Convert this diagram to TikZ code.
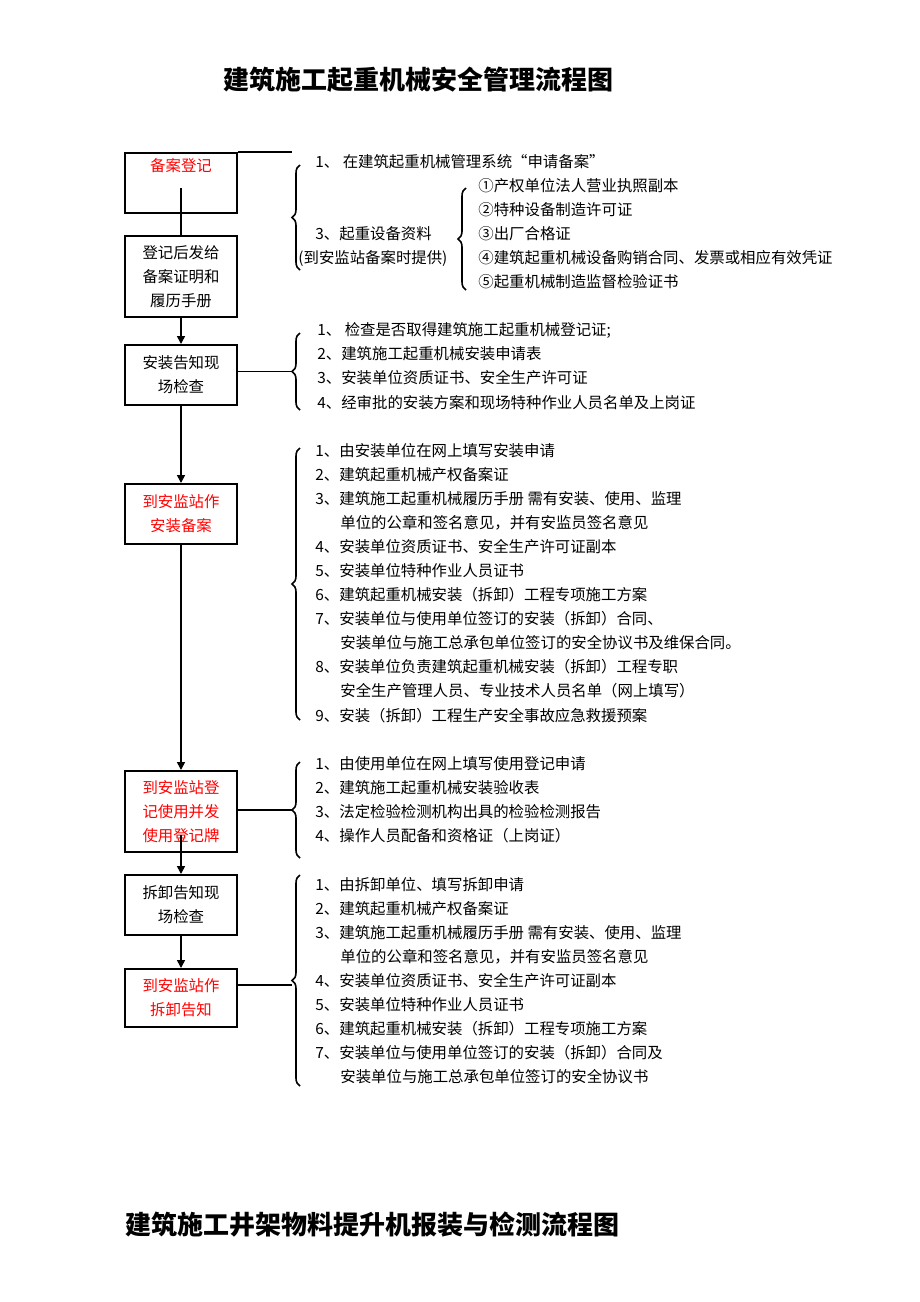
\documentclass[tikz,border=0pt]{standalone}
\usepackage{fontspec}
\setmainfont{Noto Sans CJK SC}
\usetikzlibrary{arrows.meta,decorations.pathreplacing}

\begin{document}
\begin{tikzpicture}[x=0.5pt,y=-0.5pt,>={Triangle[length=4pt,width=4pt]},
  step box/.style={draw,thick,minimum width=56pt,inner sep=0pt,align=center,font=\fontsize{7.7}{12}\selectfont},
  red box/.style={step box,text=red},
  item/.style={anchor=west,inner sep=0pt,font=\fontsize{7.7}{9}\selectfont},
  title/.style={font=\fontsize{13}{15}\selectfont\bfseries},
  curly/.style={decorate,decoration={brace,amplitude=4pt}}]
  \useasboundingbox (0,0) rectangle (920,1302);

  \node[title] (t1) at (418,80) {建筑施工起重机械安全管理流程图};
  \node[title,anchor=west] (t2) at (118,1225) {建筑施工井架物料提升机报装与检测流程图};

  % steps
  \node[red box,minimum height=30pt,anchor=north,text depth=18pt] (s1) at (181,152) {备案登记};
  \node[step box,minimum height=40.5pt,anchor=north] (s2) at (181,235) {登记后发给\\备案证明和\\履历手册};
  \node[step box,minimum height=30pt,anchor=north] (s3) at (181,344) {安装告知现\\场检查};
  \node[red box,minimum height=30pt,anchor=north] (s4) at (181,483) {到安监站作\\安装备案};
  \node[red box,minimum height=40.5pt,anchor=north] (s5) at (181,770) {到安监站登\\记使用并发\\使用登记牌};
  \node[step box,minimum height=30pt,anchor=north] (s6) at (181,874) {拆卸告知现\\场检查};
  \node[red box,minimum height=29pt,anchor=north] (s7) at (181,968) {到安监站作\\拆卸告知};

  \coordinate (c1) at (181,188);
  \coordinate (c5) at (181,835);
  \coordinate (top) at (292,152);
  \draw[thick] (c1) -- (s2.north);
  \draw[thick] (s1.north east) -- (top);
  \draw[thick,->] (s2) -- (s3);
  \draw[thick,->] (s3) -- (s4);
  \draw[thick,->] (s4) -- (s5);
  \draw[thick,->] (c5) -- (s6.north);
  \draw[thick,->] (s6) -- (s7);

  % braces
  \draw[thick,curly] (300,270) -- (300,165) coordinate[midway] (b1);
  \draw[thick,curly] (466,290) -- (466,188);
  \draw[thick,curly] (300,410) -- (300,333) coordinate[midway,xshift=-4pt] (b3);
  \draw[thick,curly] (300,720) -- (300,448);
  \draw[thick,curly] (300,858) -- (300,762) coordinate[midway,xshift=-4pt] (b5);
  \draw[thick,curly] (300,1086) -- (300,875) coordinate[midway,xshift=-4pt] (b6);
  \draw[thick] (s3.east |- b3) -- (b3);
  \draw[thick] (s5.east |- b5) -- (b5);
  \draw[thick] (s7.east |- 0,985) -- (b6 |- 0,985);

  % texts
  \node[item] (r1) at (315,162) {1、\ 在建筑起重机械管理系统“申请备案”};
  \node[item] (r3) at (315,234) {3、起重设备资料};
  \node[item] (r3b) at (298,258) {(到安监站备案时提供)};
  \foreach \y/\t/\n in {186/{①产权单位法人营业执照副本}/1,
                        210/{②特种设备制造许可证}/2,
                        234/{③出厂合格证}/3,
                        258/{④建筑起重机械设备购销合同、发票或相应有效凭证}/4,
                        282/{⑤起重机械制造监督检验证书}/5}
    \node[item] (d\n) at (478,\y) {\t};
  \foreach \y/\t/\n in {330/{1、\ 检查是否取得建筑施工起重机械登记证;}/1,
                        354/{2、建筑施工起重机械安装申请表}/2,
                        378/{3、安装单位资质证书、安全生产许可证}/3,
                        403/{4、经审批的安装方案和现场特种作业人员名单及上岗证}/4}
    \node[item] (e\n) at (317,\y) {\t};
  \foreach \y/\x/\t/\n in {451/315/{1、由安装单位在网上填写安装申请}/1,
                        475/315/{2、建筑起重机械产权备案证}/2,
                        499/315/{3、建筑施工起重机械履历手册 需有安装、使用、监理}/3,
                        523/340/{单位的公章和签名意见，并有安监员签名意见}/4,
                        547/315/{4、安装单位资质证书、安全生产许可证副本}/5,
                        571/315/{5、安装单位特种作业人员证书}/6,
                        595/315/{6、建筑起重机械安装（拆卸）工程专项施工方案}/7,
                        619/315/{7、安装单位与使用单位签订的安装（拆卸）合同、}/8,
                        643/340/{安装单位与施工总承包单位签订的安全协议书及维保合同。}/9,
                        667/315/{8、安装单位负责建筑起重机械安装（拆卸）工程专职}/10,
                        691/340/{安全生产管理人员、专业技术人员名单（网上填写）}/11,
                        716/315/{9、安装（拆卸）工程生产安全事故应急救援预案}/12}
    \node[item] (f\n) at (\x,\y) {\t};
  \foreach \y/\t/\n in {764/{1、由使用单位在网上填写使用登记申请}/1,
                        788/{2、建筑施工起重机械安装验收表}/2,
                        812/{3、法定检验检测机构出具的检验检测报告}/3,
                        836/{4、操作人员配备和资格证（上岗证）}/4}
    \node[item] (g\n) at (315,\y) {\t};
  \foreach \y/\x/\t/\n in {885/315/{1、由拆卸单位、填写拆卸申请}/1,
                        909/315/{2、建筑起重机械产权备案证}/2,
                        933/315/{3、建筑施工起重机械履历手册 需有安装、使用、监理}/3,
                        957/340/{单位的公章和签名意见，并有安监员签名意见}/4,
                        981/315/{4、安装单位资质证书、安全生产许可证副本}/5,
                        1005/315/{5、安装单位特种作业人员证书}/6,
                        1029/315/{6、建筑起重机械安装（拆卸）工程专项施工方案}/7,
                        1053/315/{7、安装单位与使用单位签订的安装（拆卸）合同及}/8,
                        1077/340/{安装单位与施工总承包单位签订的安全协议书}/9}
    \node[item] (h\n) at (\x,\y) {\t};
\end{tikzpicture}
\end{document}
